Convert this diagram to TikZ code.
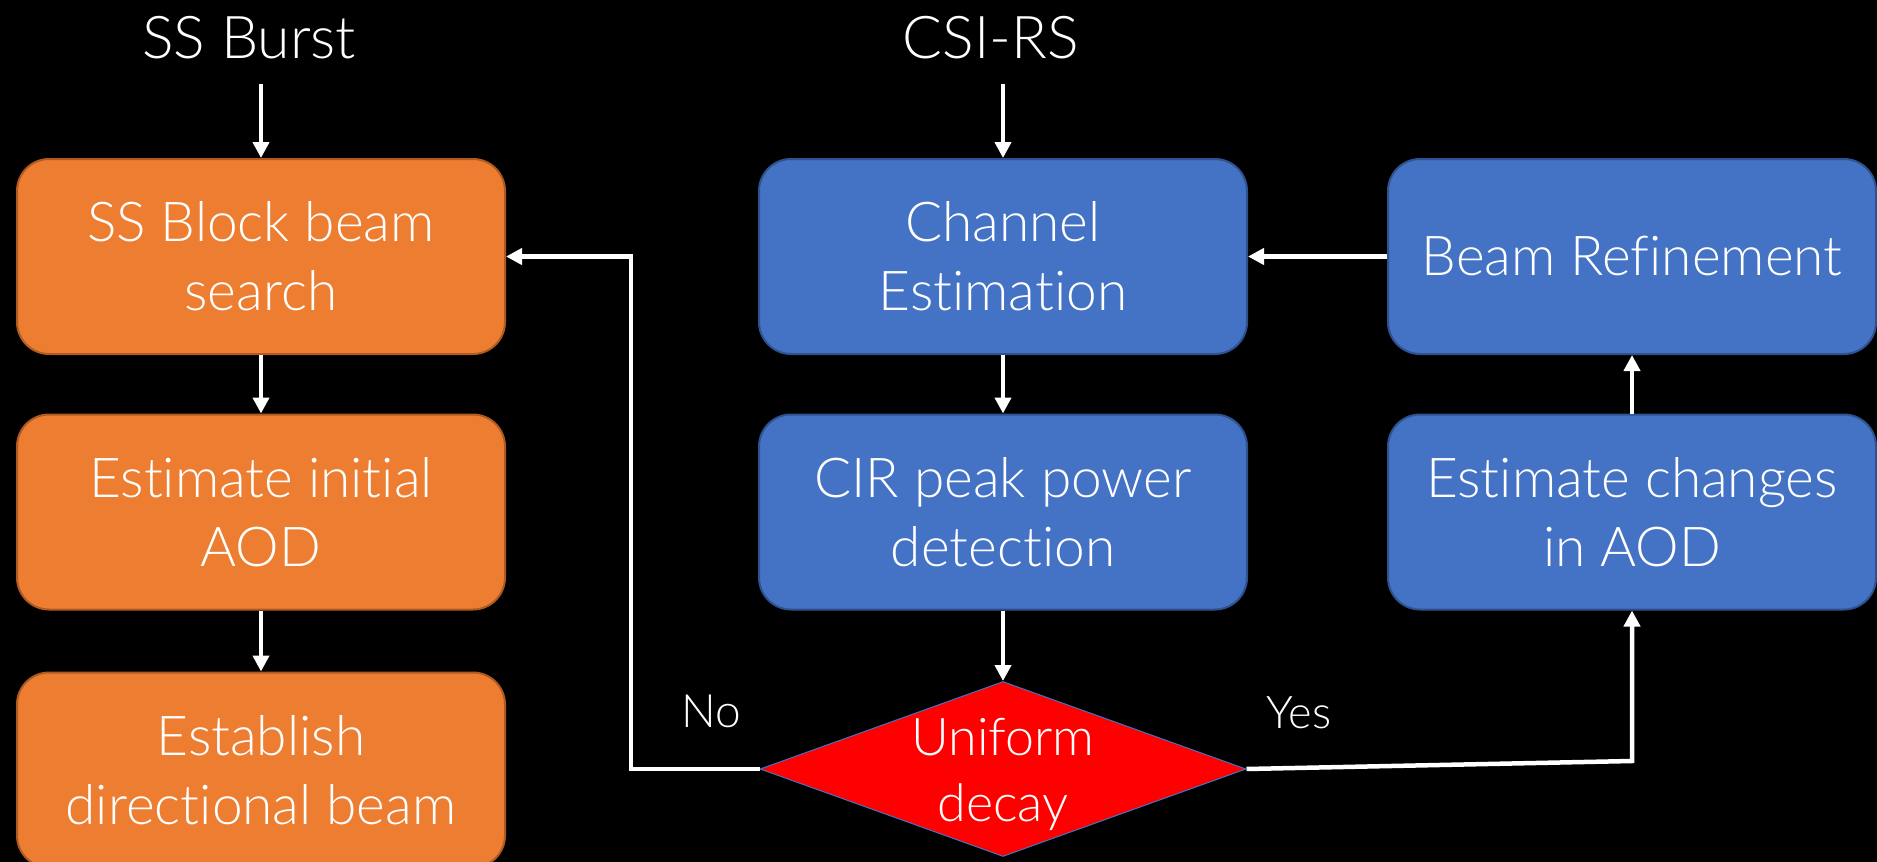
\documentclass[tikz,border=0pt]{standalone}
\usepackage{fontspec}
\setmainfont{Lato Light}[Ligatures={NoCommon,NoRequired,NoContextual}]
\usetikzlibrary{arrows.meta,shapes.geometric}
\definecolor{orfill}{HTML}{ED7D31}
\definecolor{ordraw}{HTML}{AE5A21}
\definecolor{blfill}{HTML}{4472C4}
\definecolor{bldraw}{HTML}{2F528F}
\begin{document}
\begin{tikzpicture}[x=1pt,y=-1pt,
  box/.style={rounded corners=32pt,line width=2pt,minimum width=488pt,minimum height=195pt,
    text=white,align=center,font=\fontsize{55}{69}\selectfont,inner sep=0pt},
  obox/.style={box,fill=orfill,draw=ordraw},
  bbox/.style={box,fill=blfill,draw=bldraw},
  conn/.style={draw=white,line width=4.5pt,-{Triangle[width=16pt,length=16pt]}},
  lbl/.style={text=white,font=\fontsize{59}{66}\selectfont,inner sep=0pt}]
\fill[black] (0,0) rectangle (1877,862);
\useasboundingbox (0,0) rectangle (1877,862);
\node[lbl] (ssb) at (249,38) {SS Burst};
\node[lbl] (csi) at (991,38) {CSI-RS};
\node[obox] (o1) at (261,256.5) {SS Block beam\\search};
\node[obox] (o2) at (261,512) {Estimate initial\\AOD};
\node[obox] (o3) at (261,770) {Establish\\directional beam};
\node[bbox] (b1) at (1003,256.5) {Channel\\Estimation};
\node[bbox] (b2) at (1003,512) {CIR peak power\\detection};
\node[bbox] (r1) at (1632,256.5) {Beam Refinement};
\node[bbox] (r2) at (1632,512) {Estimate changes\\in AOD};
\node[diamond,fill=red,draw=blfill,line width=1pt,minimum width=486pt,minimum height=175pt,
  aspect=2.78,inner sep=0pt] (d) at (1003,769) {};
\node[text=white,align=center,font=\fontsize{52}{66}\selectfont,inner sep=0pt] (dt) at (1003,774) {Uniform\\decay};
\node[lbl,font=\fontsize{46}{52}\selectfont] (no) at (711,711) {No};
\node[lbl,font=\fontsize{45}{52}\selectfont] (yes) at (1299,713) {Yes};
\coordinate (ssbarr) at (261,84);
\coordinate (csiarr) at (1003,84);
\draw[conn] (ssbarr) -- (o1.north);
\draw[conn] (csiarr) -- (b1.north);
\draw[conn] (o1.south) -- (o2.north);
\draw[conn] (o2.south) -- (o3.north);
\draw[conn] (b1.south) -- (b2.north);
\draw[conn] (b2.south) -- (d.north);
\draw[conn] (r1.west) -- (b1.east);
\draw[conn] (r2.north) -- (r1.south);
\coordinate (nc1) at (631,769);
\coordinate (nc2) at (631,256.5);
\draw[conn] (d.west) -- (nc1) -- (nc2) -- (o1.east);
\coordinate (yc1) at (1632,761);
\draw[conn] (d.east) -- (yc1) -- (r2.south);
\end{tikzpicture}
\end{document}
